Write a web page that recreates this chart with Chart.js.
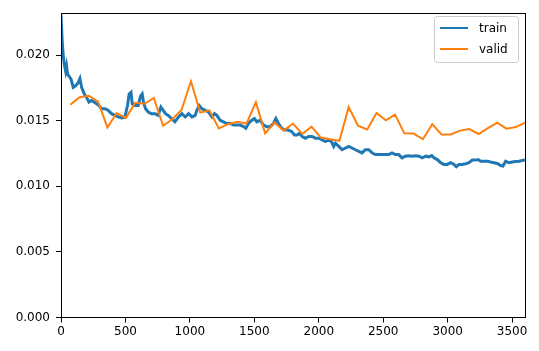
<!DOCTYPE html>
<html>
<head>
<meta charset="utf-8">
<script src="https://cdn.jsdelivr.net/npm/chart.js@4.4.1/dist/chart.umd.min.js"></script>
<style>
  html, body { margin: 0; padding: 0; background: #fff; }
  #wrap { width: 539px; height: 351px; }
</style>
</head>
<body>
<div id="wrap"><canvas id="chart" width="539" height="351"></canvas></div>
<script>
// values
const trainSteps = [0, 10, 18, 26, 36, 43, 51, 62, 78, 95, 113, 134, 147, 160, 181, 198, 217, 237, 258, 276,
  295, 315, 341, 367, 392, 419, 444, 470, 496, 516, 529, 543, 553, 574, 599, 617, 630, 640, 656, 677,
  702, 729, 754, 775, 793, 811, 832, 857, 884, 912, 938, 964, 989, 1016, 1041, 1054, 1072, 1093, 1119, 1144,
  1171, 1191, 1209, 1235, 1260, 1287, 1312, 1338, 1364, 1390, 1416, 1434, 1454, 1481, 1501, 1519, 1545, 1571, 1597, 1623,
  1648, 1667, 1687, 1713, 1739, 1764, 1791, 1811, 1832, 1850, 1871, 1896, 1923, 1948, 1974, 2000, 2026, 2051, 2078, 2098,
  2116, 2129, 2155, 2181, 2206, 2233, 2258, 2284, 2310, 2336, 2361, 2388, 2413, 2439, 2465, 2491, 2516, 2543, 2568, 2594,
  2620, 2646, 2671, 2698, 2726, 2752, 2778, 2803, 2830, 2855, 2876, 2894, 2919, 2946, 2971, 2997, 3023, 3049, 3067, 3088,
  3113, 3140, 3165, 3191, 3217, 3237, 3256, 3281, 3307, 3333, 3359, 3385, 3411, 3429, 3450, 3475, 3501, 3527, 3553, 3578, 3600];
const trainLoss = [0.0231, 0.02093, 0.01991, 0.01929, 0.01878, 0.01916, 0.01854, 0.01841, 0.01816, 0.01754,
  0.01766, 0.01792, 0.01822, 0.01754, 0.01704, 0.01679, 0.01642, 0.01654, 0.01642, 0.01629,
  0.01616, 0.01592, 0.01592, 0.01579, 0.01554, 0.01541, 0.01529, 0.01522, 0.01529, 0.01616,
  0.01704, 0.01717, 0.01629, 0.01616, 0.01616, 0.01687, 0.01704, 0.01642, 0.01592, 0.01567,
  0.01554, 0.01554, 0.01541, 0.01604, 0.01579, 0.01554, 0.01541, 0.01517, 0.01492, 0.01529,
  0.01554, 0.01529, 0.01554, 0.01529, 0.01541, 0.01579, 0.01616, 0.01592, 0.01579, 0.01567,
  0.01529, 0.01554, 0.01541, 0.01504, 0.01492, 0.01479, 0.01479, 0.01467, 0.01467, 0.01467,
  0.01455, 0.01442, 0.01479, 0.01504, 0.01517, 0.01492, 0.01504, 0.01467, 0.01455, 0.01455,
  0.01479, 0.01517, 0.01479, 0.01442, 0.01429, 0.01429, 0.01417, 0.01392, 0.01392, 0.01404,
  0.01380, 0.01367, 0.01380, 0.01380, 0.01367, 0.01367, 0.01354, 0.01342, 0.01350, 0.01342,
  0.01305, 0.01329, 0.01305, 0.01279, 0.01292, 0.01305, 0.01292, 0.01279, 0.01267, 0.01255,
  0.01279, 0.01279, 0.01255, 0.01242, 0.01242, 0.01242, 0.01242, 0.01242, 0.01255, 0.01242,
  0.01242, 0.01217, 0.01230, 0.01234, 0.01230, 0.01234, 0.01230, 0.01217, 0.01230, 0.01225,
  0.01234, 0.01217, 0.01204, 0.01180, 0.01167, 0.01167, 0.01180, 0.01167, 0.01150, 0.01167,
  0.01167, 0.01172, 0.01180, 0.01200, 0.01200, 0.01204, 0.01192, 0.01192, 0.01192, 0.01185,
  0.01180, 0.01174, 0.01159, 0.01155, 0.01192, 0.01180, 0.01185, 0.01189, 0.01192, 0.01197, 0.01200];

const validSteps = [72, 144, 216, 288, 360, 432, 504, 576, 648, 720,
  792, 864, 936, 1008, 1080, 1152, 1224, 1296, 1368, 1440,
  1512, 1584, 1656, 1728, 1800, 1872, 1944, 2016, 2088, 2160,
  2232, 2304, 2376, 2448, 2520, 2592, 2664, 2736, 2808, 2880,
  2952, 3024, 3096, 3168, 3240, 3312, 3384, 3456, 3528, 3600];
const validLoss = [0.01622, 0.01679, 0.01691, 0.01646, 0.01449, 0.01559, 0.01522, 0.01637, 0.01629, 0.01674,
  0.01462, 0.01511, 0.01584, 0.01801, 0.01562, 0.01579, 0.01442, 0.01474, 0.01492, 0.01479,
  0.01642, 0.01404, 0.01487, 0.01425, 0.01479, 0.01399, 0.01455, 0.01372, 0.01359, 0.01347,
  0.01604, 0.01462, 0.01434, 0.01559, 0.01504, 0.01547, 0.01404, 0.01402, 0.01359, 0.01474,
  0.01395, 0.01395, 0.01425, 0.01437, 0.01399, 0.01444, 0.01485, 0.01440, 0.01452, 0.01485];

const xTicks = [0, 500, 1000, 1500, 2000, 2500, 3000, 3500];
const yTicks = [0, 0.005, 0.010, 0.015, 0.020];

const FONT = 'DejaVu Sans';

// frame on all four sides, like matplotlib spines
const spines = {
  id: 'spines',
  afterDatasetsDraw(chart) {
    const { ctx, chartArea: a } = chart;
    ctx.save();
    ctx.strokeStyle = '#000';
    ctx.lineWidth = 1;
    ctx.strokeRect(Math.round(a.left) + 0.5, Math.round(a.top) + 0.5,
      Math.round(a.right - a.left), Math.round(a.bottom - a.top));
    ctx.restore();
  }
};

// matplotlib-like legend box in the upper right
const mplLegend = {
  id: 'mplLegend',
  afterDraw(chart) {
    const { ctx } = chart;
    const x0 = 434, y0 = 16, w = 84, h = 46;
    ctx.save();
    ctx.beginPath();
    ctx.roundRect(x0 + 0.5, y0 + 0.5, w, h, 3);
    ctx.fillStyle = 'rgba(255,255,255,0.8)';
    ctx.fill();
    ctx.strokeStyle = '#cccccc';
    ctx.lineWidth = 1;
    ctx.stroke();
    ctx.font = '12px "' + FONT + '"';
    ctx.textBaseline = 'middle';
    ctx.fillStyle = '#000';
    chart.data.datasets.forEach((ds, i) => {
      const y = 28 + i * 21;
      ctx.beginPath();
      ctx.moveTo(440, y);
      ctx.lineTo(468, y);
      ctx.strokeStyle = ds.borderColor;
      ctx.lineWidth = 2;
      ctx.stroke();
      ctx.fillText(ds.label, 479, y + 1);
    });
    ctx.restore();
  }
};

const ctx = document.getElementById('chart').getContext('2d');
new Chart(ctx, {
  type: 'scatter',
  data: {
    datasets: [
      {
        label: 'train',
        data: trainSteps.map((s, i) => ({ x: s, y: trainLoss[i] })),
        showLine: true,
        borderColor: '#1f77b4',
        borderWidth: 3,
        pointRadius: 0,
        tension: 0,
        order: 1
      },
      {
        label: 'valid',
        data: validSteps.map((s, i) => ({ x: s, y: validLoss[i] })),
        showLine: true,
        borderColor: '#ff7f0e',
        borderWidth: 2,
        pointRadius: 0,
        tension: 0,
        order: 0
      }
    ]
  },
  options: {
    responsive: false,
    animation: false,
    layout: { padding: { left: 0, right: 14, top: 9, bottom: 0 } },
    plugins: { legend: { display: false }, tooltip: { enabled: false } },
    scales: {
      x: {
        type: 'linear',
        min: 0,
        max: 3600,
        afterFit(scale) { scale.height = 33.5; },
        afterBuildTicks(scale) { scale.ticks = xTicks.map(v => ({ value: v })); },
        grid: { drawOnChartArea: false, drawTicks: true, tickLength: 5, color: '#000', tickWidth: 1 },
        border: { display: false },
        ticks: { color: '#000', padding: 2, maxRotation: 0, font: { family: FONT, size: 12 },
          callback: v => String(v) }
      },
      y: {
        type: 'linear',
        min: 0,
        max: 0.0232,
        afterFit(scale) { scale.width = 61; },
        afterBuildTicks(scale) { scale.ticks = yTicks.map(v => ({ value: v })); },
        grid: { drawOnChartArea: false, drawTicks: true, tickLength: 5, color: '#000', tickWidth: 1 },
        border: { display: false },
        ticks: { color: '#000', padding: 6, font: { family: FONT, size: 12 },
          callback: v => v.toFixed(3) }
      }
    }
  },
  plugins: [spines, mplLegend]
});
</script>
</body>
</html>
